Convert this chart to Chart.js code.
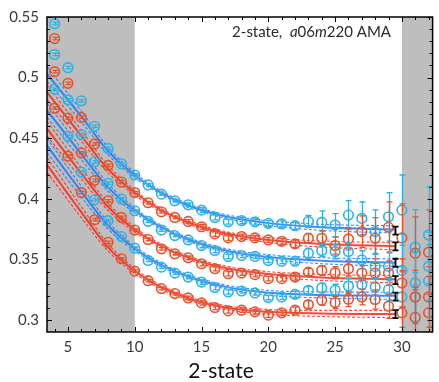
<!DOCTYPE html>
<html>
<head>
<meta charset="utf-8">
<script src="https://cdn.jsdelivr.net/npm/chart.js@4.4.1/dist/chart.umd.min.js"></script>
<style>
  html, body { margin: 0; padding: 0; background: #ffffff; }
  #wrap { width: 439px; height: 382px; }
</style>
</head>
<body>
<div id="wrap"><canvas id="chart" width="439" height="382"></canvas></div>
<script>
// Source-sink separation values of the data points
const tsep = [4, 5, 6, 7, 8, 9, 10, 11, 12, 13, 14, 15, 16, 17, 18, 19, 20, 21, 22, 23, 24, 25, 26, 27, 28, 29, 30, 31, 32];

// Ratio data, one array per curve (top to bottom)
const pts1 = [0.5445, 0.5082, 0.4809, 0.4598, 0.4416, 0.4289, 0.4197, 0.4115, 0.4039, 0.3984, 0.3951, 0.3907, 0.3847, 0.3811, 0.3820, 0.3811, 0.3798, 0.3793, 0.3779, 0.3814, 0.3806, 0.3784, 0.3866, 0.3839, 0.3730, 0.3852, 0.3907, 0.3601, 0.3702];
const pts2 = [0.5322, 0.4953, 0.4672, 0.4453, 0.4276, 0.4139, 0.4052, 0.3968, 0.3893, 0.3847, 0.3814, 0.3770, 0.3711, 0.3678, 0.3689, 0.3678, 0.3661, 0.3650, 0.3629, 0.3675, 0.3675, 0.3615, 0.3670, 0.3730, 0.3675, 0.3765, 0.3678, 0.3552, 0.3560];
const pts3 = [0.5191, 0.4817, 0.4530, 0.4306, 0.4129, 0.3998, 0.3902, 0.3815, 0.3743, 0.3697, 0.3661, 0.3615, 0.3574, 0.3525, 0.3533, 0.3525, 0.3492, 0.3486, 0.3486, 0.3552, 0.3574, 0.3566, 0.3566, 0.3497, 0.3443, 0.3443, 0.3410, 0.3306, 0.3443];
const pts4 = [0.5049, 0.4666, 0.4380, 0.4153, 0.3984, 0.3847, 0.3743, 0.3665, 0.3588, 0.3547, 0.3514, 0.3465, 0.3424, 0.3383, 0.3388, 0.3375, 0.3342, 0.3342, 0.3355, 0.3396, 0.3410, 0.3391, 0.3424, 0.3388, 0.3388, 0.3388, 0.3306, 0.3191, 0.3191];
const pts5 = [0.4904, 0.4516, 0.4221, 0.3992, 0.3820, 0.3689, 0.3593, 0.3492, 0.3437, 0.3388, 0.3355, 0.3314, 0.3268, 0.3232, 0.3240, 0.3224, 0.3186, 0.3191, 0.3213, 0.3246, 0.3265, 0.3246, 0.3281, 0.3292, 0.3273, 0.3251, 0.3191, 0.3191, 0.3322];
const pts6 = [0.4748, 0.4352, 0.4052, 0.3828, 0.3642, 0.3506, 0.3404, 0.3325, 0.3260, 0.3219, 0.3183, 0.3142, 0.3104, 0.3076, 0.3082, 0.3068, 0.3041, 0.3060, 0.3082, 0.3129, 0.3164, 0.3145, 0.3172, 0.3191, 0.3170, 0.3115, 0.3060, 0.3022, 0.3060];

// Statistical errors of the data points
const err1 = [0.001, 0.001, 0.001, 0.001, 0.001, 0.001, 0.001, 0.001, 0.001, 0.001, 0.0015, 0.002, 0.002, 0.002, 0.0025, 0.0025, 0.0025, 0.0025, 0.003, 0.005, 0.0095, 0.0095, 0.012, 0.0135, 0.018, 0.020, 0.029, 0.031, 0.040];
const err2 = [0.001, 0.001, 0.001, 0.001, 0.001, 0.001, 0.001, 0.001, 0.001, 0.001, 0.0015, 0.002, 0.002, 0.002, 0.002, 0.002, 0.002, 0.0025, 0.003, 0.004, 0.006, 0.007, 0.009, 0.013, 0.017, 0.021, 0.028, 0.030, 0.035];
const err3 = [0.001, 0.001, 0.001, 0.001, 0.001, 0.001, 0.001, 0.001, 0.001, 0.001, 0.0015, 0.0018, 0.0018, 0.0018, 0.0018, 0.0018, 0.0018, 0.002, 0.0025, 0.004, 0.005, 0.006, 0.007, 0.0075, 0.010, 0.012, 0.030, 0.025, 0.028];
const err4 = [0.001, 0.001, 0.001, 0.001, 0.001, 0.001, 0.001, 0.001, 0.001, 0.001, 0.0015, 0.0018, 0.0018, 0.0018, 0.0018, 0.0018, 0.0018, 0.002, 0.0025, 0.003, 0.004, 0.005, 0.006, 0.006, 0.008, 0.010, 0.020, 0.022, 0.025];
const err5 = [0.001, 0.001, 0.001, 0.001, 0.001, 0.001, 0.001, 0.001, 0.001, 0.001, 0.0015, 0.0018, 0.0018, 0.0018, 0.0018, 0.0018, 0.0018, 0.002, 0.0025, 0.003, 0.004, 0.005, 0.006, 0.006, 0.007, 0.009, 0.025, 0.020, 0.030];
const err6 = [0.001, 0.001, 0.001, 0.001, 0.001, 0.001, 0.001, 0.001, 0.001, 0.001, 0.0015, 0.0018, 0.0018, 0.0018, 0.0018, 0.0018, 0.0018, 0.002, 0.0025, 0.003, 0.004, 0.005, 0.006, 0.0065, 0.008, 0.010, 0.035, 0.025, 0.030];

// Two-state fit curves, sampled along tau
const fitX = [3.43, 6, 8, 10, 12, 14, 17, 20, 24, 29.5];
const fit1 = [0.503, 0.468, 0.4395, 0.4195, 0.4050, 0.3945, 0.3850, 0.3800, 0.3765, 0.3748];
const fit2 = [0.488, 0.452, 0.4245, 0.4050, 0.3905, 0.3805, 0.3710, 0.3660, 0.3627, 0.3610];
const fit3 = [0.473, 0.437, 0.4095, 0.3905, 0.3765, 0.3665, 0.3570, 0.3520, 0.3490, 0.3474];
const fit4 = [0.458, 0.421, 0.3935, 0.3745, 0.3610, 0.3515, 0.3425, 0.3380, 0.3352, 0.3337];
const fit5 = [0.444, 0.406, 0.3780, 0.3590, 0.3455, 0.3360, 0.3270, 0.3225, 0.3208, 0.3200];
const fit6 = [0.428, 0.389, 0.3600, 0.3405, 0.3270, 0.3180, 0.3100, 0.3068, 0.3055, 0.3050];
// Half-width of the fit error band at fitX
const fitBand = [0.006, 0.0045, 0.003, 0.002, 0.0016, 0.0015, 0.0016, 0.002, 0.0025, 0.003];

// Extracted ground-state values (tau -> infinity)
const plateauX = 29.5;
const plateau = [0.3738, 0.3609, 0.3473, 0.3330, 0.3193, 0.3049];
const plateauErr = [0.0033, 0.0033, 0.0033, 0.0033, 0.0033, 0.0033];

// Axis tick labels
const xTicks = [5, 10, 15, 20, 25, 30];
const yTicks = [0.3, 0.35, 0.4, 0.45, 0.5, 0.55];

// Excluded tau regions (shaded)
const shadeLow = 10;
const shadeHigh = 30;

const FONT = 'Lato, "DejaVu Sans", sans-serif';
const BLUE_PT = '#2db2e6';
const RED_PT = '#e4532c';
const BLUE_LN = 'rgba(26,118,255,0.85)';
const RED_LN = 'rgba(255,36,20,0.85)';

const curves = [
  { pts: pts1, err: err1, fit: fit1, pt: BLUE_PT, ln: BLUE_LN },
  { pts: pts2, err: err2, fit: fit2, pt: RED_PT, ln: RED_LN },
  { pts: pts3, err: err3, fit: fit3, pt: BLUE_PT, ln: BLUE_LN },
  { pts: pts4, err: err4, fit: fit4, pt: RED_PT, ln: RED_LN },
  { pts: pts5, err: err5, fit: fit5, pt: BLUE_PT, ln: BLUE_LN },
  { pts: pts6, err: err6, fit: fit6, pt: RED_PT, ln: RED_LN }
];

const datasets = [];
curves.forEach(c => {
  datasets.push({
    type: 'scatter',
    data: tsep.map((t, k) => ({ x: t, y: c.pts[k] })),
    errors: c.err,
    errColor: c.pt,
    pointStyle: 'circle',
    pointRadius: 4.8,
    pointBorderWidth: 1.6,
    pointBorderColor: c.pt,
    pointBackgroundColor: 'rgba(0,0,0,0)',
    showLine: false,
    order: 0
  });
});
curves.forEach(c => {
  const common = {
    type: 'line',
    pointRadius: 0,
    fill: false,
    cubicInterpolationMode: 'monotone',
    order: 1
  };
  datasets.push(Object.assign({}, common, {
    data: fitX.map((t, k) => ({ x: t, y: c.fit[k] + fitBand[k] })),
    borderColor: c.ln, borderWidth: 1.1, borderDash: [3, 2]
  }));
  datasets.push(Object.assign({}, common, {
    data: fitX.map((t, k) => ({ x: t, y: c.fit[k] - fitBand[k] })),
    borderColor: c.ln, borderWidth: 1.1, borderDash: [3, 2]
  }));
  datasets.push(Object.assign({}, common, {
    data: fitX.map((t, k) => ({ x: t, y: c.fit[k] })),
    borderColor: c.ln, borderWidth: 2
  }));
});
// ground-state values drawn as black error bars only
datasets.push({
  type: 'scatter',
  data: plateau.map(v => ({ x: plateauX, y: v })),
  errors: plateauErr,
  errColor: '#000000',
  errWidth: 1.8,
  pointRadius: 0,
  order: 0
});

const shading = {
  id: 'shading',
  beforeDatasetsDraw(chart) {
    const { ctx, chartArea: a, scales: { x } } = chart;
    ctx.save();
    ctx.fillStyle = '#bebebe';
    const x1 = x.getPixelForValue(shadeLow);
    const x2 = x.getPixelForValue(shadeHigh);
    ctx.fillRect(a.left, a.top, x1 - a.left, a.bottom - a.top);
    ctx.fillRect(x2, a.top, a.right - x2, a.bottom - a.top);
    ctx.restore();
  }
};

const errorBars = {
  id: 'errorBars',
  afterDatasetsDraw(chart) {
    const { ctx, chartArea: a, scales: { x, y } } = chart;
    ctx.save();
    ctx.beginPath();
    ctx.rect(a.left, a.top, a.right - a.left, a.bottom - a.top);
    ctx.clip();
    chart.data.datasets.forEach(ds => {
      if (!ds.errors) return;
      ctx.strokeStyle = ds.errColor;
      ctx.lineWidth = ds.errWidth || 1.3;
      ds.data.forEach((p, k) => {
        const e = ds.errors[k];
        const px = Math.round(x.getPixelForValue(p.x)) + 0.5;
        const yLo = y.getPixelForValue(p.y - e);
        const yHi = y.getPixelForValue(p.y + e);
        ctx.beginPath();
        ctx.moveTo(px, yLo); ctx.lineTo(px, yHi);
        ctx.moveTo(px - 3, yLo); ctx.lineTo(px + 3, yLo);
        ctx.moveTo(px - 3, yHi); ctx.lineTo(px + 3, yHi);
        ctx.stroke();
      });
    });
    ctx.restore();
  }
};

const frame = {
  id: 'frame',
  afterDraw(chart) {
    const { ctx, chartArea: a, scales: { x, y } } = chart;
    ctx.save();
    ctx.strokeStyle = '#000000';
    ctx.lineWidth = 1;
    ctx.beginPath();
    // minor and major ticks on x (bottom and top, pointing inward)
    for (let t = Math.ceil(x.min); t <= x.max; t++) {
      const px = Math.round(x.getPixelForValue(t)) + 0.5;
      const len = (t % 5 === 0) ? 5 : 3;
      ctx.moveTo(px, a.bottom); ctx.lineTo(px, a.bottom - len);
      ctx.moveTo(px, a.top); ctx.lineTo(px, a.top + len);
    }
    // minor and major ticks on y (left and right, pointing inward)
    for (let i = Math.ceil(y.min * 100); i <= Math.round(y.max * 100); i++) {
      const py = Math.round(y.getPixelForValue(i / 100)) + 0.5;
      const len = (i % 5 === 0) ? 5 : 3;
      ctx.moveTo(a.left, py); ctx.lineTo(a.left + len, py);
      ctx.moveTo(a.right, py); ctx.lineTo(a.right - len, py);
    }
    ctx.stroke();
    ctx.lineWidth = 1.5;
    ctx.strokeRect(a.left, a.top, a.right - a.left, a.bottom - a.top);

    // ensemble label with italic symbols
    const parts = [
      ['2-state,  ', 'normal'], ['a', 'italic'], ['06', 'normal'],
      ['m', 'italic'], ['220 AMA', 'normal']
    ];
    const font = st => st + ' 15px ' + FONT;
    let w = 0;
    parts.forEach(([s, st]) => { ctx.font = font(st); w += ctx.measureText(s).width; });
    let tx = 391 - w;
    ctx.fillStyle = '#2b2b2b';
    ctx.textBaseline = 'alphabetic';
    parts.forEach(([s, st]) => {
      ctx.font = font(st);
      ctx.fillText(s, tx, 37);
      tx += ctx.measureText(s).width;
    });

    // x-axis caption
    ctx.font = '21px ' + FONT;
    ctx.fillStyle = '#111111';
    ctx.textAlign = 'center';
    ctx.textBaseline = 'alphabetic';
    ctx.fillText('2-state', 221, 378);
    ctx.restore();
  }
};

new Chart(document.getElementById('chart'), {
  data: { datasets },
  options: {
    responsive: false,
    animation: false,
    devicePixelRatio: 1,
    layout: { padding: { top: 15, right: 1, left: 0, bottom: 0 } },
    plugins: { legend: { display: false }, tooltip: { enabled: false } },
    scales: {
      x: {
        type: 'linear',
        min: 3.43,
        max: 32.3,
        grid: { display: false, drawTicks: false },
        border: { display: false },
        afterBuildTicks: s => { s.ticks = xTicks.map(v => ({ value: v })); },
        afterFit: s => { s.height = 50; },
        ticks: {
          padding: 6,
          color: '#3a3a3a',
          font: { family: FONT, size: 15 },
          callback: v => String(v)
        }
      },
      y: {
        type: 'linear',
        min: 0.2902,
        max: 0.55,
        grid: { display: false, drawTicks: false },
        border: { display: false },
        afterBuildTicks: s => { s.ticks = yTicks.map(v => ({ value: v })); },
        afterFit: s => { s.width = 47; },
        ticks: {
          padding: 8,
          color: '#3a3a3a',
          font: { family: FONT, size: 15 },
          callback: v => String(Math.round(v * 100) / 100)
        }
      }
    }
  },
  plugins: [shading, errorBars, frame]
});
</script>
</body>
</html>
